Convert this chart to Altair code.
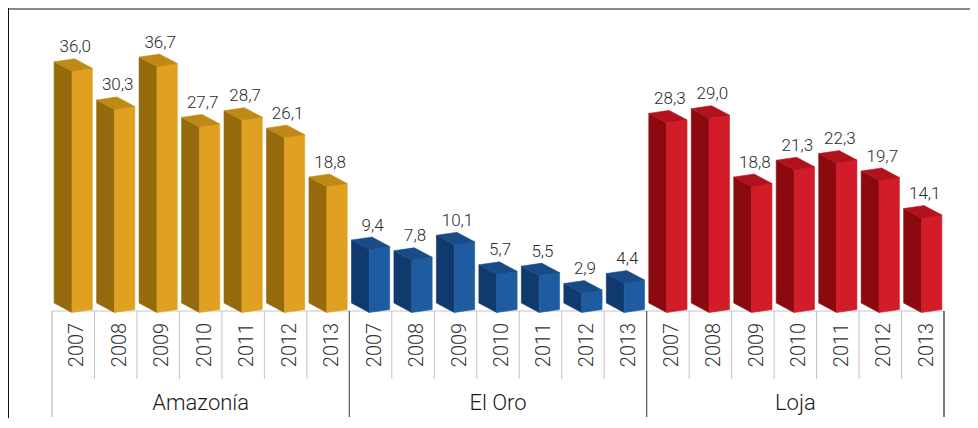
import altair as alt
import pandas as pd

# ---- data ----
groups = ["Amazonía", "El Oro", "Loja"]
years = ["2007", "2008", "2009", "2010", "2011", "2012", "2013"]
amazonia = [36.0, 30.3, 36.7, 27.7, 28.7, 26.1, 18.8]
el_oro = [9.4, 7.8, 10.1, 5.7, 5.5, 2.9, 4.4]
loja = [28.3, 29.0, 18.8, 21.3, 22.3, 19.7, 14.1]
series = [amazonia, el_oro, loja]

# face colours: (front, side, top)
palettes = [
    ("#E0A022", "#946A0C", "#C08916"),
    ("#1F5BA0", "#10396D", "#194B87"),
    ("#D21C2A", "#8A0A10", "#B0131D"),
]

# ---- 3D bar geometry (style constants) ----
XL, XF, XR = 0.05, 0.47, 0.95        # side-left, front-left, front-right within a cell
DX = XF - XL                          # depth extent in x (cell units)
W = XR - XF                           # front width (cell units)
XB = XL + W                           # back corner of top face
PX_PER_UNIT = 6.7
D = 9.5 / PX_PER_UNIT                 # vertical rise of depth
S = 3.0 / PX_PER_UNIT                 # vertical rise across front width

face_rows, label_rows, year_rows = [], [], []
n_years = len(years)
for gi, (g, vals, pal) in enumerate(zip(groups, series, palettes)):
    front_c, side_c, top_c = pal
    for yi, (yr, v) in enumerate(zip(years, vals)):
        i = gi * n_years + yi
        key = f"{g}-{yr}"
        # side face
        face_rows += [
            dict(face=key + "-s", x=i + XL, y=v + D, y2=D, c=side_c),
            dict(face=key + "-s", x=i + XF, y=v, y2=0.0, c=side_c),
        ]
        # front face
        face_rows += [
            dict(face=key + "-f", x=i + XF, y=v, y2=0.0, c=front_c),
            dict(face=key + "-f", x=i + XR, y=v + S, y2=S, c=front_c),
        ]
        # top face
        face_rows += [
            dict(face=key + "-t", x=i + XL, y=v + D, y2=v + D, c=top_c),
            dict(face=key + "-t", x=i + XF, y=v + D + S * DX / W, y2=v, c=top_c),
            dict(face=key + "-t", x=i + XB, y=v + D + S, y2=v + S * (XB - XF) / W, c=top_c),
            dict(face=key + "-t", x=i + XR, y=v + S, y2=v + S, c=top_c),
        ]
        label_rows.append(dict(x=i + 0.5, v=v, txt=f"{v:.1f}".replace(".", ",")))
        year_rows.append(dict(x=i + 0.5, year=yr))

faces = pd.DataFrame(face_rows)
labels = pd.DataFrame(label_rows)
year_df = pd.DataFrame(year_rows)
n_cells = len(groups) * n_years
group_df = pd.DataFrame(
    dict(x=[gi * n_years + n_years / 2 for gi in range(len(groups))], g=groups)
)

bounds = []
for b in range(n_cells + 1):
    if b % n_years == 0:
        col = "#bdbdbd" if b == 0 else ("#222222" if b == n_cells else "#555555")
        bounds.append(dict(x=b, kind="group", c=col))
    else:
        bounds.append(dict(x=b, kind="year", c="#c4c4c4"))
bounds_df = pd.DataFrame(bounds)
top_line = pd.DataFrame(dict(x0=[0], x1=[n_cells]))

W_CH, H_CH = 962, 410
xs = alt.Scale(domain=[0, n_cells], range=[44, 936])
ys = alt.Scale(domain=[0, 40], range=[304.5, 304.5 - 40 * PX_PER_UNIT])
FONT = "Roboto"

frame_top = alt.Chart(top_line).mark_rule(color="#8a8a8a", strokeWidth=2).encode(
    x=alt.value(0), x2=alt.value(W_CH), y=alt.value(1)
)
frame_left = alt.Chart(top_line).mark_rule(color="#111111", strokeWidth=1).encode(
    x=alt.value(0.5), y=alt.value(0), y2=alt.value(H_CH)
)

table_top = alt.Chart(top_line).mark_rule(color="#c4c4c4", strokeWidth=1).encode(
    x=alt.X("x0:Q", scale=xs, axis=None), x2="x1:Q", y=alt.value(303)
)
group_rules = alt.Chart(bounds_df).transform_filter("datum.kind == 'group'").mark_rule(
    strokeWidth=1.2
).encode(
    x=alt.X("x:Q", scale=xs, axis=None),
    y=alt.value(303), y2=alt.value(409),
    color=alt.Color("c:N", scale=None),
)
year_rules = alt.Chart(bounds_df).transform_filter("datum.kind == 'year'").mark_rule(
    strokeWidth=1
).encode(
    x=alt.X("x:Q", scale=xs, axis=None),
    y=alt.value(303), y2=alt.value(371),
    color=alt.Color("c:N", scale=None),
)

bars = alt.Chart(faces).mark_area(
    strokeWidth=0.6, interpolate="linear", orient="vertical"
).encode(
    x=alt.X("x:Q", scale=xs, axis=None),
    y=alt.Y("y:Q", scale=ys, axis=None, stack=None),
    y2="y2:Q",
    detail="face:N",
    color=alt.Color("c:N", scale=None),
    stroke=alt.Stroke("c:N", scale=None),
)

value_labels = alt.Chart(labels).mark_text(
    font=FONT, fontSize=17, fontWeight=300, color="#2a2a2a", baseline="alphabetic", dy=-19, dx=2
).encode(
    x=alt.X("x:Q", scale=xs, axis=None),
    y=alt.Y("v:Q", scale=ys, axis=None),
    text="txt:N",
)

year_labels = alt.Chart(year_df).mark_text(
    font=FONT, fontSize=20, fontWeight=300, color="#333333", angle=270,
    baseline="middle", align="center", dy=4, dx=-1,
).encode(
    x=alt.X("x:Q", scale=xs, axis=None),
    y=alt.value(336),
    text="year:N",
)

group_labels = alt.Chart(group_df).mark_text(
    font=FONT, fontSize=22, fontWeight=300, color="#1a1a1a", baseline="middle", align="center"
).encode(
    x=alt.X("x:Q", scale=xs, axis=None),
    y=alt.value(395),
    text="g:N",
)

chart = alt.layer(
    frame_top, frame_left, table_top, group_rules, year_rules, bars,
    value_labels, year_labels, group_labels,
).properties(
    width=W_CH, height=H_CH, padding=0,
    autosize=alt.AutoSizeParams(type="none"),
).configure_view(stroke=None).configure(background="white")

chart.save("out.html", embed_options={"renderer": "svg", "actions": False})
